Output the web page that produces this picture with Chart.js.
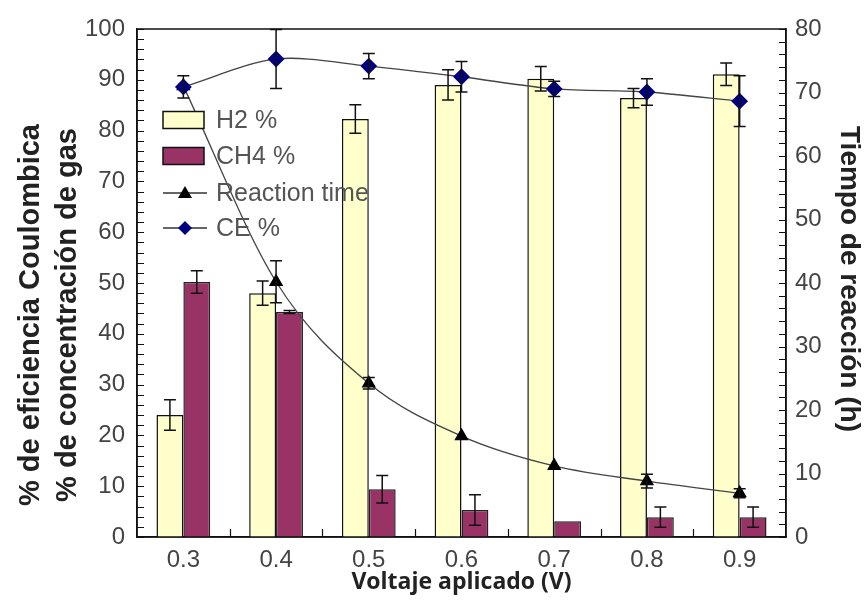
<!DOCTYPE html>
<html><head><meta charset="utf-8">
<script src="https://cdn.jsdelivr.net/npm/chart.js@4/dist/chart.umd.min.js"></script>
<style>html,body{margin:0;padding:0;background:#fff}#wrap{width:865px;height:609px;position:relative}canvas{display:block}</style>
</head><body><div id="wrap"><canvas id="c" width="865" height="609"></canvas></div>
<script>
const categories = ['0.3', '0.4', '0.5', '0.6', '0.7', '0.8', '0.9'];
const h2Values   = [24, 48, 82.3, 89, 90.2, 86.4, 91.1];
const h2Errors   = [3, 2.4, 2.8, 3, 2.4, 1.9, 2.2];
const ch4Values  = [50.2, 44.3, 9.4, 5.3, 3.1, 3.9, 3.9];
const ch4Errors  = [2.2, 0.3, 2.7, 3, 0, 2, 2];
const ceValues   = [88.6, 94.1, 92.7, 90.6, 88.2, 87.6, 85.8];
const ceErrors   = [2.2, 5.8, 2.5, 3, 1.5, 2.6, 5];
const timeValues = [71, 40.2, 24.2, 15.9, 11.2, 8.8, 6.9];
const timeErrors = [0, 3.3, 0.9, 0, 0, 1.1, 0.7];
const leftTickLabels  = [0, 10, 20, 30, 40, 50, 60, 70, 80, 90, 100];
const rightTickLabels = [0, 10, 20, 30, 40, 50, 60, 70, 80];
const legendLabels = ['H2 %', 'CH4 %', 'Reaction time', 'CE %'];
const xTitle = 'Voltaje aplicado (V)';
const leftTitle = ['% de eficiencia Coulombica', '% de concentración de gas'];
const rightTitle = 'Tiempo de reacción (h)';

const H2_FILL = '#ffffcc', CH4_FILL = '#993366', CE_COLOR = '#000080';
const TXT = '#444';

const frame = {
  id: 'frame',
  afterDraw(chart) {
    const {ctx, chartArea: a, scales} = chart;
    ctx.save();
    ctx.strokeStyle = '#111';
    ctx.lineWidth = 1.5;
    ctx.strokeRect(a.left, a.top, a.right - a.left, a.bottom - a.top);
    ctx.lineWidth = 1.2;
    ctx.beginPath();
    for (let v = 0; v <= 100; v += 2) {
      const y = Math.round(scales.y.getPixelForValue(v)) + 0.5;
      ctx.moveTo(a.left, y); ctx.lineTo(a.left + 7, y);
    }
    for (let v = 0; v <= 80; v += 2) {
      const y = Math.round(scales.y2.getPixelForValue(v)) + 0.5;
      ctx.moveTo(a.right, y); ctx.lineTo(a.right - 7, y);
    }
    for (let i = 0; i < categories.length - 1; i++) {
      const x = Math.round((scales.x.getPixelForValue(i) + scales.x.getPixelForValue(i + 1)) / 2) + 0.5;
      ctx.moveTo(x, a.bottom); ctx.lineTo(x, a.bottom - 8);
    }
    ctx.stroke();

    // y titles
    ctx.fillStyle = '#222';
    ctx.textAlign = 'center';
    ctx.textBaseline = 'middle';
    ctx.font = 'bold 29px "Liberation Sans", Arial, sans-serif';
    ctx.save();
    ctx.translate(31, 315);
    ctx.rotate(-Math.PI / 2);
    ctx.fillText(leftTitle[0], 0, 0);
    ctx.fillText(leftTitle[1], 0, 37);
    ctx.restore();
    ctx.save();
    ctx.font = 'bold 28px "Liberation Sans", Arial, sans-serif';
    ctx.translate(849, 279);
    ctx.rotate(Math.PI / 2);
    ctx.fillText(rightTitle, 0, 0);
    ctx.restore();

    // legend
    const lx = 163, tx = 216;
    const rows = [120, 156, 193, 228];
    ctx.lineWidth = 1.5;
    ctx.fillStyle = H2_FILL; ctx.strokeStyle = '#111';
    ctx.fillRect(lx, rows[0] - 8.5, 41, 17); ctx.strokeRect(lx, rows[0] - 8.5, 41, 17);
    ctx.fillStyle = CH4_FILL;
    ctx.fillRect(lx, rows[1] - 8.5, 41, 17); ctx.strokeRect(lx, rows[1] - 8.5, 41, 17);
    ctx.strokeStyle = '#333'; ctx.lineWidth = 1.3;
    ctx.beginPath(); ctx.moveTo(lx, rows[2]); ctx.lineTo(lx + 44, rows[2]); ctx.stroke();
    ctx.beginPath(); ctx.moveTo(lx, rows[3]); ctx.lineTo(lx + 44, rows[3]); ctx.stroke();
    ctx.fillStyle = '#000';
    ctx.beginPath();
    ctx.moveTo(lx + 22, rows[2] - 7); ctx.lineTo(lx + 29, rows[2] + 5); ctx.lineTo(lx + 15, rows[2] + 5); ctx.closePath(); ctx.fill();
    ctx.fillStyle = CE_COLOR;
    ctx.beginPath();
    ctx.moveTo(lx + 22, rows[3] - 7); ctx.lineTo(lx + 29, rows[3]); ctx.lineTo(lx + 22, rows[3] + 7); ctx.lineTo(lx + 15, rows[3]); ctx.closePath(); ctx.fill();
    ctx.fillStyle = '#555';
    ctx.textAlign = 'left';
    ctx.font = '25px "Liberation Sans", Arial, sans-serif';
    legendLabels.forEach((t, i) => ctx.fillText(t, tx, rows[i] + 1));
    ctx.restore();
  }
};

const errorBars = {
  id: 'errorBars',
  afterDatasetsDraw(chart) {
    const {ctx} = chart;
    ctx.save();
    ctx.strokeStyle = '#111';
    ctx.lineWidth = 1.5;
    chart.data.datasets.forEach((ds, di) => {
      const meta = chart.getDatasetMeta(di);
      const ys = chart.scales[meta.yAxisID];
      ds.errors.forEach((e, i) => {
        if (!e) return;
        const el = meta.data[i];
        const x = el.x;
        const y1 = ys.getPixelForValue(ds.data[i] + e);
        const y2 = ys.getPixelForValue(ds.data[i] - e);
        ctx.beginPath();
        ctx.moveTo(x, y1); ctx.lineTo(x, y2);
        ctx.moveTo(x - 6, y1); ctx.lineTo(x + 6, y1);
        ctx.moveTo(x - 6, y2); ctx.lineTo(x + 6, y2);
        ctx.stroke();
      });
    });
    ctx.restore();
  }
};

new Chart(document.getElementById('c'), {
  data: {
    labels: categories,
    datasets: [
      {type: 'line', label: legendLabels[3], data: ceValues, errors: ceErrors, yAxisID: 'y', order: 0,
       borderColor: '#444', borderWidth: 1.3, tension: 0.3, pointStyle: 'rectRot', pointRadius: 7.5,
       pointBackgroundColor: CE_COLOR, pointBorderColor: CE_COLOR},
      {type: 'line', label: legendLabels[2], data: timeValues, errors: timeErrors, yAxisID: 'y2', order: 1,
       borderColor: '#444', borderWidth: 1.3, cubicInterpolationMode: 'monotone', pointStyle: 'triangle', pointRadius: 7,
       pointBackgroundColor: '#000', pointBorderColor: '#000'},
      {type: 'bar', label: legendLabels[0], data: h2Values, errors: h2Errors, yAxisID: 'y', order: 2,
       backgroundColor: H2_FILL, borderColor: '#111', borderWidth: 1.5},
      {type: 'bar', label: legendLabels[1], data: ch4Values, errors: ch4Errors, yAxisID: 'y', order: 3,
       backgroundColor: CH4_FILL, borderColor: '#222', borderWidth: 1.5}
    ]
  },
  options: {
    responsive: false,
    animation: false,
    devicePixelRatio: 1,
    layout: {padding: {top: 29, left: 0, right: 0, bottom: 0}},
    datasets: {bar: {categoryPercentage: 0.58, barPercentage: 1.0}},
    plugins: {legend: {display: false}, tooltip: {enabled: false}},
    scales: {
      x: {
        type: 'category',
        grid: {display: false, drawTicks: false, offset: true},
        border: {display: true, color: '#111', width: 1.5},
        ticks: {color: TXT, padding: 9, font: {family: '"Liberation Sans", Arial, sans-serif', size: 24}},
        title: {display: true, text: xTitle, color: '#222', padding: {top: 0, bottom: 13},
                font: {family: '"Open Sans", sans-serif', size: 23, weight: 'bold'}},
        afterFit(s) { s.height = 72; }
      },
      y: {
        position: 'left', min: 0, max: 100,
        grid: {display: false, drawTicks: false},
        border: {display: true, color: '#111', width: 1.5},
        ticks: {color: TXT, padding: 12, font: {family: '"Liberation Sans", Arial, sans-serif', size: 24}},
        afterBuildTicks(s) { s.ticks = leftTickLabels.map(v => ({value: v})); },
        afterFit(s) { s.width = 137; }
      },
      y2: {
        position: 'right', min: 0, max: 80,
        grid: {display: false, drawTicks: false},
        border: {display: true, color: '#111', width: 1.5},
        ticks: {color: TXT, padding: 9, font: {family: '"Liberation Sans", Arial, sans-serif', size: 24}},
        afterBuildTicks(s) { s.ticks = rightTickLabels.map(v => ({value: v})); },
        afterFit(s) { s.width = 79; }
      }
    }
  },
  plugins: [errorBars, frame]
});
</script>
</body></html>
